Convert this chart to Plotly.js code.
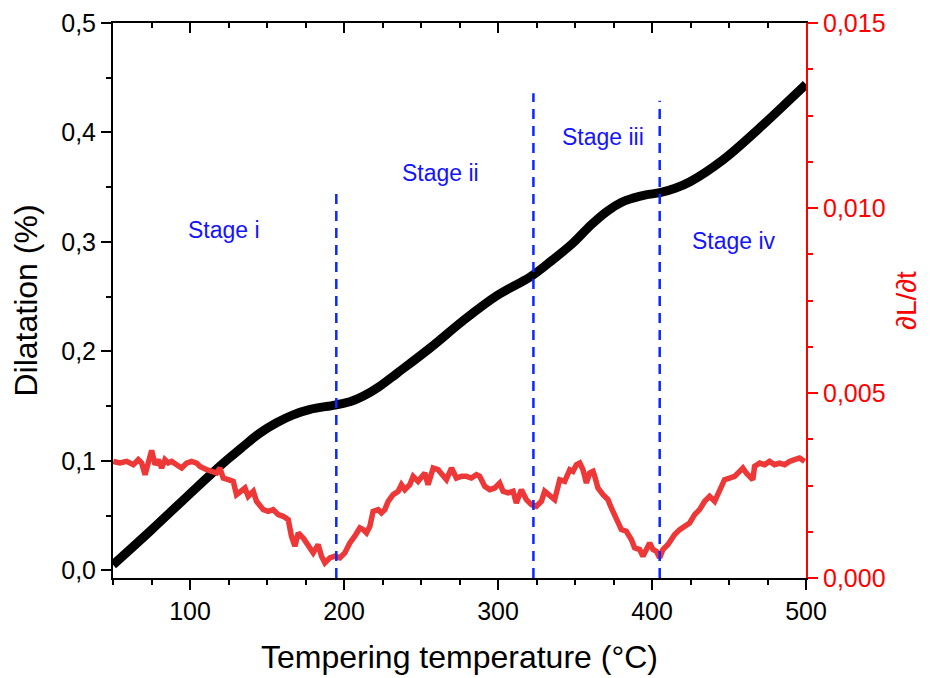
<!DOCTYPE html>
<html>
<head>
<meta charset="utf-8">
<script src="https://cdn.plot.ly/plotly-3.0.1.min.js"></script>
<style>html,body{margin:0;padding:0;background:#fff;}#chart{width:931px;height:678px;}</style>
</head>
<body>
<div id="chart"></div>
<script>
// Dilatation curve (black, left axis, %)
const temp = [50, 75, 100, 113, 125, 134.4, 145, 156.5, 167, 178, 194, 203.8, 212.3, 223, 234.4, 255.8, 277.3, 299.4, 320.8, 334, 348.7, 360, 370.8, 380, 387.7, 396, 405.2, 415, 424.7, 446.1, 468.2, 485, 500];
const dilatation = [0.005, 0.037, 0.070, 0.087, 0.102, 0.113, 0.125, 0.135, 0.142, 0.147, 0.151, 0.154, 0.159, 0.168, 0.180, 0.203, 0.228, 0.251, 0.268, 0.282, 0.299, 0.315, 0.328, 0.336, 0.340, 0.343, 0.345, 0.349, 0.355, 0.375, 0.402, 0.424, 0.444];

// Derivative curve (red, right axis)
const rateT = [50.2,54.5,58.9,63.2,66.4,68.6,70.8,72.9,75.1,77.3,79.4,81.6,83.7,85.9,88.1,91.3,94.6,97.8,101.0,104.3,106.5,110.8,114.0,117.3,119.4,121.6,124.8,128.1,130.2,133.5,135.7,137.8,141.1,143.2,145.4,147.6,150.8,154.0,157.3,160.5,163.8,165.9,168.1,170.3,173.5,176.8,180.0,183.2,185.4,187.6,190.8,194.1,
 197.3,200.5,203.8,207.0,210.3,212.4,214.6,216.8,218.9,222.2,224.3,226.5,228.7,231.9,235.2,237.3,239.5,242.7,244.9,248.1,250.3,252.5,254.6,257.9,261.1,263.3,266.5,269.8,273.0,276.3,279.5,282.7,286.0,288.1,291.4,294.6,297.9,301.1,303.3,306.5,309.8,311.9,315.2,318.4,321.7,324.9,328.2,330.3,333.6,336.8,340.1,343.3,346.6,348.7,350.9,
 353.1,355.2,357.4,359.5,361.7,362.8,364.9,368.2,371.4,373.6,375.8,377.9,380.1,383.3,386.6,388.7,392.0,394.1,396.3,398.5,400.6,402.8,405.0,407.1,410.4,414.7,418.0,421.2,424.4,427.7,430.9,434.2,437.4,440.7,443.9,447.1,450.4,453.6,456.9,459.0,461.2,463.4,465.5,466.6,469.9,473.1,476.3,479.6,482.8,486.1,489.3,492.6,495.8,499.1];
const rate = [3.152,3.107,3.152,3.062,3.197,3.107,2.792,3.107,3.449,3.062,3.197,2.972,3.197,3.107,3.152,3.062,2.972,3.107,3.152,3.107,3.017,2.927,2.882,2.837,2.972,2.702,2.657,2.612,2.253,2.388,2.433,2.208,2.343,2.073,1.983,1.848,1.803,1.848,1.713,1.668,1.578,1.129,0.859,1.219,1.084,0.859,0.679,0.904,0.589,0.409,0.544,0.589,
 0.544,0.679,0.949,1.129,1.353,1.308,1.219,1.398,1.803,1.848,1.758,1.848,2.073,2.253,2.343,2.522,2.388,2.522,2.747,2.612,2.702,2.837,2.522,2.972,2.927,2.837,2.657,2.972,2.702,2.747,2.747,2.702,2.792,2.747,2.477,2.388,2.433,2.567,2.343,2.298,2.343,2.028,2.388,2.118,1.983,1.938,2.073,2.343,2.208,2.118,2.657,2.612,2.927,2.882,3.062,
 3.107,2.927,2.567,2.837,2.882,2.747,2.433,2.253,2.118,1.893,1.713,1.488,1.308,1.263,1.039,0.814,0.769,0.589,0.769,0.949,0.769,0.724,0.544,0.769,0.904,1.174,1.308,1.398,1.488,1.713,1.848,2.073,2.208,2.073,2.343,2.657,2.702,2.747,2.882,2.972,2.837,2.747,2.657,3.017,3.107,3.062,3.152,3.062,3.107,3.062,3.152,3.197,3.242,3.152].map(v => v / 1000);

// Stage boundaries (dashed lines, top in right-axis units)
const stageT = [195, 323, 405];
const stageTop = [0.0104, 0.0131, 0.0129];

// Stage labels
const stageNames = ['Stage i', 'Stage ii', 'Stage iii', 'Stage iv'];
const stageLabelX = [122, 262.5, 368, 453.5];
const stageLabelY = [0.311, 0.363, 0.396, 0.301];

const FONT = 'Liberation Sans, Arial, Helvetica, sans-serif';

const traces = [
  {x: temp, y: dilatation, type: 'scatter', mode: 'lines', line: {color: '#000', width: 9, shape: 'spline', smoothing: 1}, xaxis: 'x', yaxis: 'y', hoverinfo: 'skip'},
  {x: rateT, y: rate, type: 'scatter', mode: 'lines', line: {color: 'rgb(238,55,55)', width: 5.5}, xaxis: 'x', yaxis: 'y2', hoverinfo: 'skip'}
];
stageT.forEach((t, i) => {
  traces.push({x: [t, t], y: [0, stageTop[i]], type: 'scatter', mode: 'lines',
    line: {color: 'rgb(10,40,255)', width: 2.5, dash: '10px,7px'}, xaxis: 'x', yaxis: 'y2', hoverinfo: 'skip'});
});
traces.push({x: [], y: [], type: 'scatter', xaxis: 'x2', yaxis: 'y', hoverinfo: 'skip'});

const annotations = stageNames.map((s, i) => ({
  x: stageLabelX[i], y: stageLabelY[i], xref: 'x', yref: 'y', text: s, showarrow: false,
  font: {family: FONT, size: 23, color: 'rgb(20,20,255)'}, xanchor: 'center', yanchor: 'middle'
}));

const tickCommon = {ticks: 'outside', ticklen: 10, tickwidth: 2, showline: true, linewidth: 2, showgrid: false, zeroline: false};

const layout = {
  width: 931, height: 678,
  margin: {l: 113, r: 124.5, t: 23, b: 99.5},
  paper_bgcolor: '#fff', plot_bgcolor: '#fff',
  showlegend: false,
  separators: ',.',
  font: {family: FONT, color: '#000'},
  xaxis: Object.assign({}, tickCommon, {
    range: [50, 500], tick0: 0, dtick: 100, linecolor: '#000', tickcolor: '#000',
    minor: {dtick: 25, tick0: 0, ticks: 'outside', ticklen: 5, tickwidth: 2, tickcolor: '#000'},
    tickfont: {family: FONT, size: 25, color: '#000'},
    title: {text: 'Tempering temperature (°C)', font: {family: FONT, size: 32, color: '#000'}, standoff: 22}
  }),
  xaxis2: {
    overlaying: 'x', side: 'top', anchor: 'y', range: [50, 500], tick0: 0, dtick: 100,
    ticks: 'inside', ticklen: 10, tickwidth: 2, tickcolor: '#000', showticklabels: false,
    showline: true, linewidth: 2, linecolor: '#000', showgrid: false, zeroline: false,
    minor: {dtick: 25, tick0: 0, ticks: 'inside', ticklen: 5, tickwidth: 2, tickcolor: '#000'}
  },
  yaxis: Object.assign({}, tickCommon, {
    range: [-0.007, 0.5], tick0: 0, dtick: 0.1, tickformat: '.1f', linecolor: '#000', tickcolor: '#000',
    minor: {dtick: 0.05, tick0: 0, ticks: 'outside', ticklen: 5, tickwidth: 2, tickcolor: '#000'},
    tickfont: {family: FONT, size: 25, color: '#000'},
    title: {text: 'Dilatation (%)', font: {family: FONT, size: 32, color: '#000'}, standoff: 14}
  }),
  yaxis2: Object.assign({}, tickCommon, {
    overlaying: 'y', side: 'right', anchor: 'x',
    range: [0, 0.015], tick0: 0, dtick: 0.005, tickformat: '.3f', linecolor: 'red', tickcolor: 'red',
    minor: {dtick: 0.00125, tick0: 0, ticks: 'outside', ticklen: 5, tickwidth: 2, tickcolor: 'red'},
    tickfont: {family: FONT, size: 25, color: 'red'},
    title: {text: '∂L/∂t', font: {family: FONT, size: 28, color: 'red'}, standoff: 12}
  }),
  annotations: annotations
};

Plotly.newPlot('chart', traces, layout, {staticPlot: true, displayModeBar: false});
</script>
</body>
</html>
